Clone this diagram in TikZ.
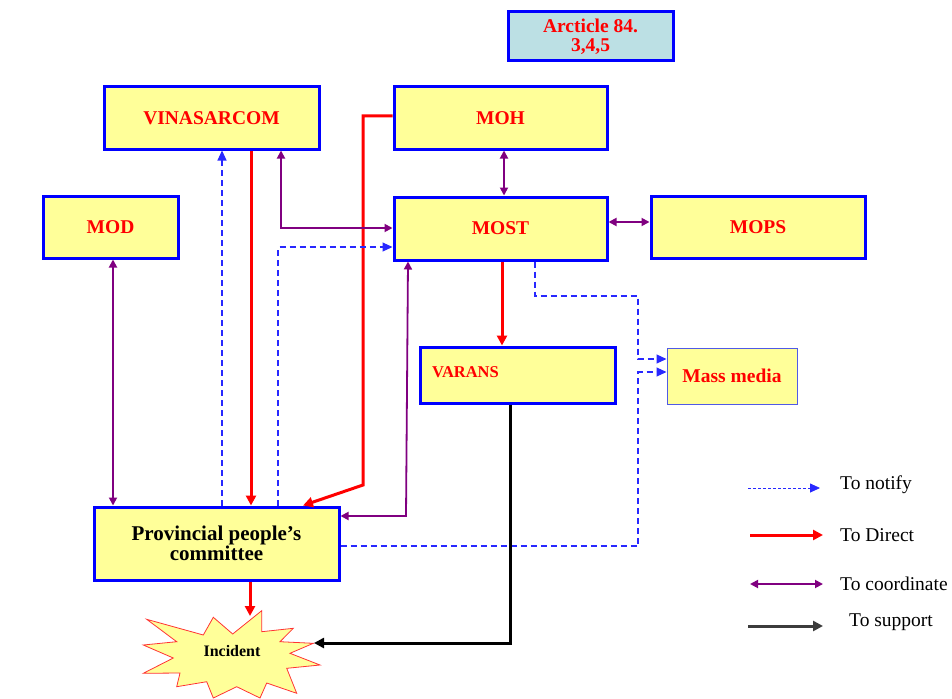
\documentclass[tikz,border=0pt]{standalone}
\usepackage{fontspec}
\setmainfont{Liberation Serif}
\usetikzlibrary{arrows.meta}
\definecolor{boxyellow}{RGB}{255,255,153}
\definecolor{boxblue}{RGB}{0,0,255}
\definecolor{artcyan}{RGB}{188,224,228}
\definecolor{coordpurple}{RGB}{128,0,128}
\definecolor{notifyblue}{RGB}{40,40,255}
\definecolor{mediablue}{RGB}{80,90,230}
\definecolor{supportgrey}{RGB}{60,60,60}
\tikzset{
  box/.style={draw=boxblue, line width=3pt, fill=boxyellow, text=red,
    font=\fontsize{19.5}{19.5}\selectfont\bfseries, align=center, inner sep=0pt},
  directarrow/.style={draw=red, line width=3pt, -{Triangle[length=10pt,width=10pt]}},
  coordarrow/.style={draw=coordpurple, line width=1.8pt,
    {Triangle[length=8pt,width=8pt]}-{Triangle[length=8pt,width=8pt]}},
  notifyarrow/.style={draw=notifyblue, line width=1.1pt, dash pattern=on 6pt off 4pt,
    -{Triangle[length=10pt,width=9pt]}},
  supportarrow/.style={draw=black, line width=3pt, -{Triangle[length=10pt,width=10pt]}},
  legendtext/.style={anchor=west, font=\fontsize{19.5}{19.5}\selectfont, inner sep=0pt}
}
\begin{document}
\begin{tikzpicture}[x=1pt,y=-1pt]
\useasboundingbox (0,0) rectangle (952,698);

% boxes
\node[box, fill=artcyan, minimum width=165pt, minimum height=49pt] (art) at (590.5,36.5)
  {\fontsize{19.5}{17.5}\selectfont Arcticle 84.\\3,4,5};
\node[box, minimum width=215pt, minimum height=62pt] (vin) at (211.5,118) {VINASARCOM};
\node[box, minimum width=213pt, minimum height=62pt] (moh) at (500.5,118) {MOH};
\node[box, minimum width=135pt, minimum height=62pt] (mod) at (110.5,227) {MOD};
\node[box, minimum width=213pt, minimum height=63pt] (most) at (500.5,228.5) {MOST};
\node[box, minimum width=214pt, minimum height=62pt] (mops) at (758,227) {MOPS};
\node[box, minimum width=195pt, minimum height=56pt] (varans) at (517.5,375) {};
\node[anchor=west, text=red, font=\fontsize{16.5}{16.5}\selectfont\bfseries, inner sep=0pt]
  (varanslabel) at (432,372) {VARANS};
\node[box, draw=mediablue, line width=1pt, minimum width=130pt, minimum height=56pt] (mass) at (732,376) {Mass media};
\node[box, text=black, minimum width=245pt, minimum height=73pt, font=\fontsize{21}{20.5}\selectfont\bfseries]
  (prov) at (216.5,543.5) {Provincial people’s\\committee};

% incident starburst
\filldraw[fill=boxyellow, draw=red!80, line width=0.8pt]
  (146.7,619.3) -- (203.3,635) -- (213.3,617.3) -- (232.7,634) -- (261.7,610.7)
  -- (261.7,631.7) -- (293.3,628.3) -- (280,641.7) -- (313.3,643.3) -- (290,653.3)
  -- (320,665) -- (286.7,668.3) -- (296.7,693.3) -- (266.7,683) -- (260,698)
  -- (236.7,686.7) -- (213.3,698) -- (206.7,681.7) -- (176.7,686.7) -- (180,673)
  -- (143.3,673.3) -- (173.3,658) -- (143.3,645) -- (176.7,641.7) -- cycle;
\node[font=\fontsize{16}{16}\selectfont\bfseries, inner sep=0pt] (inc) at (232,651) {Incident};
\coordinate (incN) at (250,616);
\coordinate (incE) at (314,643);

% connectors
\draw[directarrow] (vin.south -| 251,0) -- (prov.north -| 251,0);
\draw[directarrow] (moh.west |- 0,116) -- (363,116) -- (363,485) -- (prov.north -| 303,0);
\draw[notifyarrow] (prov.north -| 222,0) -- (vin.south -| 222,0);
\draw[notifyarrow] (prov.north -| 278,0) -- (278,247) -- (most.west |- 0,247);
\draw[coordarrow] (vin.south -| 281,0) -- (281,228) -- (most.west |- 0,228);
\draw[coordarrow] (moh.south -| 504,0) -- (most.north -| 504,0);
\draw[coordarrow] (most.east |- 0,222) -- (mops.west |- 0,222);
\draw[coordarrow] (mod.south -| 113,0) -- (prov.north -| 113,0);
\draw[coordarrow] (most.south -| 408,0) -- (406,516) -- (prov.east |- 0,516);
\draw[directarrow] (most.south -| 502,0) -- (varans.north -| 502,0);
\draw[notifyarrow] (most.south -| 535,0) -- (535,296) -- (638,296) -- (638,359) -- (mass.west |- 0,359);
\draw[notifyarrow] (prov.east |- 0,546) -- (638,546) -- (638,372) -- (mass.west |- 0,372);
\draw[supportarrow] (varans.south -| 510,0) -- (510,643) -- (incE);
\draw[directarrow] (prov.south -| 250,0) -- (incN);

% legend
\coordinate (l1a) at (748,488); \coordinate (l1b) at (820,488);
\coordinate (l2a) at (750,535); \coordinate (l2b) at (823,535);
\coordinate (l3a) at (750,584); \coordinate (l3b) at (823,584);
\coordinate (l4a) at (748,626); \coordinate (l4b) at (823,626);
\draw[notifyarrow, line width=0.8pt, dash pattern=on 3pt off 2pt] (l1a) -- (l1b);
\draw[directarrow] (l2a) -- (l2b);
\draw[coordarrow] (l3a) -- (l3b);
\draw[supportarrow, draw=supportgrey] (l4a) -- (l4b);
\node[legendtext] (t1) at (840,485) {To notify};
\node[legendtext] (t2) at (840,535) {To Direct};
\node[legendtext] (t3) at (840,584) {To coordinate};
\node[legendtext] (t4) at (849,622) {To support};
\end{tikzpicture}
\end{document}
